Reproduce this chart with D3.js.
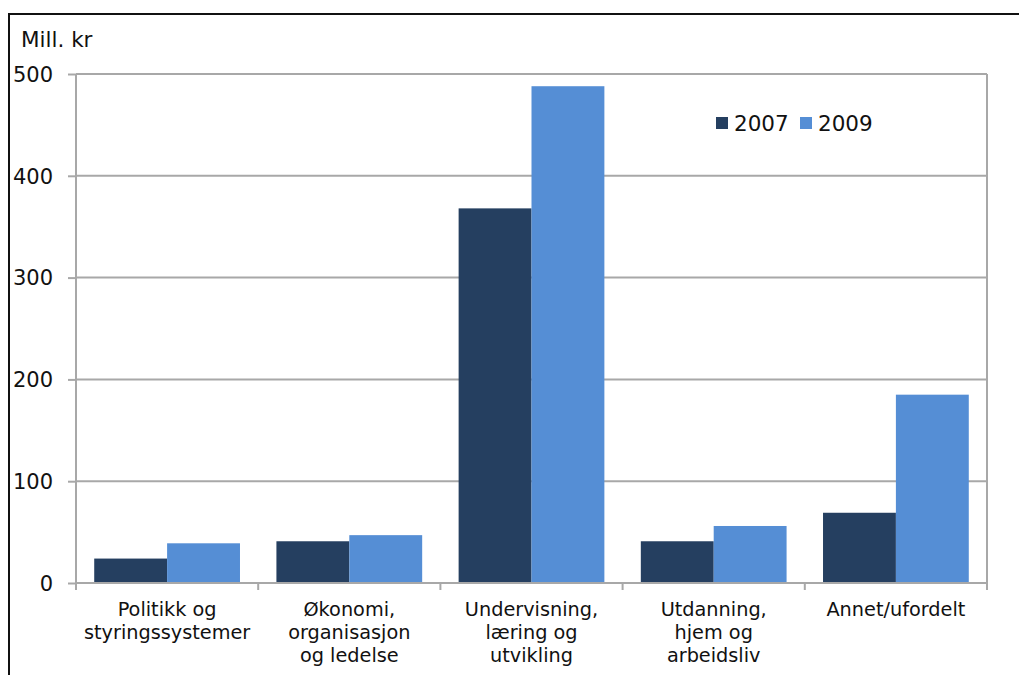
<!DOCTYPE html>
<html>
<head>
<meta charset="utf-8">
<script src="https://cdn.jsdelivr.net/npm/d3@7"></script>
<style>
  body { margin: 0; background: #fff; }
  text { font-family: "DejaVu Sans", Verdana, sans-serif; fill: #111; }
</style>
</head>
<body>
<div id="chart"></div>
<script>
// categories (line breaks as in the original)
const categories = [
  "Politikk og\nstyringssystemer",
  "Økonomi,\norganisasjon\nog ledelse",
  "Undervisning,\nlæring og\nutvikling",
  "Utdanning,\nhjem og\narbeidsliv",
  "Annet/ufordelt"
];
const years = ["2007", "2009"];
const values2007 = [24, 41, 368, 41, 69];
const values2009 = [39, 47, 488, 56, 185];
const yTicks = [0, 100, 200, 300, 400, 500];
const yLabel = "Mill. kr";

const colors = ["#253f60", "#558ed5"];

const W = 1019, H = 675;
const margin = { top: 74, right: 32, bottom: 92, left: 76 };
const width = W - margin.left - margin.right,
    height = H - margin.top - margin.bottom;

const svg = d3.select("#chart").append("svg")
    .attr("width", W)
    .attr("height", H);

// outer frame (only top and left visible in the crop)
svg.append("path")
    .attr("d", "M9,700 L9,14 L1030,14")
    .attr("fill", "none")
    .attr("stroke", "#111")
    .attr("stroke-width", 2);

const g = svg.append("g")
    .attr("transform", "translate(" + margin.left + "," + margin.top + ")");

// band for whole category slot
const slot = d3.scaleBand()
    .domain(categories)
    .range([0, width]);

const x1 = d3.scaleBand()
    .domain(years)
    .range([0, slot.bandwidth() * 0.8]);

const y = d3.scaleLinear()
    .domain([0, 500])
    .range([height, 0]);

// gridlines
g.selectAll(".grid")
    .data(yTicks.slice(1))
    .enter().append("line")
    .attr("x1", 0)
    .attr("x2", width)
    .attr("y1", d => y(d))
    .attr("y2", d => y(d))
    .attr("stroke", "#a8a8a8")
    .attr("stroke-width", 2);

// plot frame right side
g.append("line")
    .attr("x1", width).attr("x2", width)
    .attr("y1", 0).attr("y2", height + 7)
    .attr("stroke", "#a8a8a8")
    .attr("stroke-width", 2);

// bars
const data = categories.map((c, i) => ({ cat: c, vals: [values2007[i], values2009[i]] }));
const groups = g.selectAll(".grp")
    .data(data)
    .enter().append("g")
    .attr("transform", d => "translate(" + (slot(d.cat) + slot.bandwidth() * 0.1) + ",0)");

groups.selectAll("rect")
    .data(d => d.vals.map((v, j) => ({ year: years[j], value: v, j: j })))
    .enter().append("rect")
    .attr("x", d => x1(d.year))
    .attr("y", d => y(d.value))
    .attr("width", x1.bandwidth())
    .attr("height", d => height - y(d.value))
    .attr("fill", d => colors[d.j]);

// y axis
const yAxis = d3.axisLeft(y)
    .tickValues(yTicks)
    .tickSize(8)
    .tickPadding(15);
const gy = g.append("g").call(yAxis);
gy.select(".domain").attr("stroke", "#a8a8a8").attr("stroke-width", 2)
    .attr("d", "M0," + (height + 7) + "V0");
gy.selectAll(".tick line").attr("stroke", "#a8a8a8").attr("stroke-width", 2);
gy.selectAll(".tick text")
    .style("font-size", "21px")
    .attr("dy", "0.35em")
    .attr("fill", "#111");

// x axis baseline + tick marks at slot boundaries
g.append("line")
    .attr("x1", 0).attr("x2", width)
    .attr("y1", height).attr("y2", height)
    .attr("stroke", "#a8a8a8")
    .attr("stroke-width", 2);

const bounds = categories.map(c => slot(c)).concat([width]);
g.selectAll(".xtick")
    .data(bounds)
    .enter().append("line")
    .attr("x1", d => d).attr("x2", d => d)
    .attr("y1", height).attr("y2", height + 7)
    .attr("stroke", "#a8a8a8")
    .attr("stroke-width", 2);

// category labels
const labels = g.selectAll(".xlabel")
    .data(categories)
    .enter().append("text")
    .attr("text-anchor", "middle")
    .attr("transform", d => "translate(" + (slot(d) + slot.bandwidth() / 2) + "," + (height + 33) + ")")
    .style("font-size", "19.3px");
labels.selectAll("tspan")
    .data(d => d.split("\n"))
    .enter().append("tspan")
    .attr("x", 0)
    .attr("y", (d, i) => i * 23)
    .text(d => d);

// y label
svg.append("text")
    .attr("x", 21)
    .attr("y", 47)
    .style("font-size", "21.5px")
    .text(yLabel);

// legend
const legend = svg.append("g").attr("transform", "translate(716,116)");
const lx = [0, 84];
years.forEach((yr, i) => {
  legend.append("rect")
      .attr("x", lx[i]).attr("y", 1)
      .attr("width", 12).attr("height", 12)
      .attr("fill", colors[i]);
  legend.append("text")
      .attr("x", lx[i] + 18)
      .attr("y", 15)
      .style("font-size", "21.5px")
      .text(yr);
});
</script>
</body>
</html>
